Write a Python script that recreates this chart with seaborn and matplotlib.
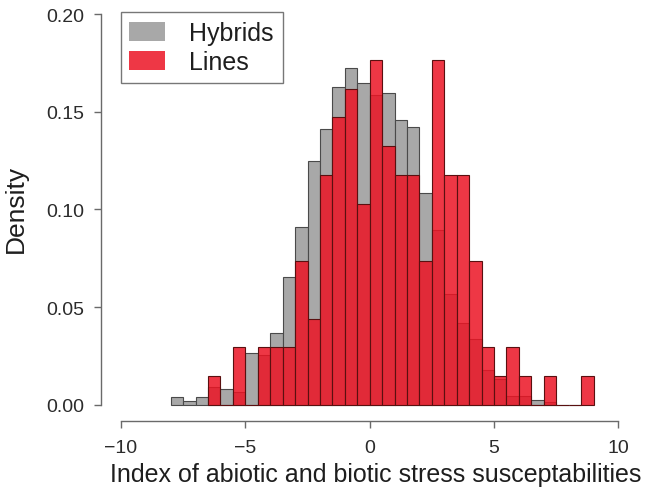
import numpy as np
import pandas as pd
import matplotlib
matplotlib.use("Agg")
import matplotlib.pyplot as plt
from matplotlib.patches import Patch
import seaborn as sns

# ---- data ----
bin_width = 0.5
# Hybrids: densities per 0.5-wide bin, bins from -8 to 8.5
hybrid_start = -8.0
hybrid_density = [0.004, 0.002, 0.004, 0.009, 0.008, 0.0065, 0.0265, 0.0253,
                  0.0368, 0.0656, 0.0908, 0.1247, 0.1410, 0.1624, 0.1723, 0.1648,
                  0.1584, 0.1598, 0.1460, 0.1422, 0.1084, 0.0896, 0.0567, 0.0420,
                  0.0339, 0.0180, 0.0134, 0.0043, 0.0043, 0.0026, 0.0014, 0.0, 0.0]
# Lines: counts per 0.5-wide bin, bins from -6.5 to 9
lines_start = -6.5
lines_count = [1, 0, 2, 0, 2, 2, 2, 5, 3, 8, 10, 11, 7, 12, 9, 8, 8, 5, 12, 8,
               8, 5, 2, 1, 2, 1, 0, 1, 0, 0, 1]

x_ticks = [-10, -5, 0, 5, 10]
y_ticks = [0.00, 0.05, 0.10, 0.15, 0.20]
x_label = "Index of abiotic and biotic stress susceptabilities"
y_label = "Density"
legend_labels = ["Hybrids", "Lines"]

# ---- build bins ----
h_edges = [hybrid_start + bin_width * i for i in range(len(hybrid_density) + 1)]
h_centers = [e + bin_width / 2 for e in h_edges[:-1]]
l_edges = [lines_start + bin_width * i for i in range(len(lines_count) + 1)]
l_centers = [e + bin_width / 2 for e in l_edges[:-1]]

df_h = pd.DataFrame({"x": h_centers, "w": hybrid_density})
df_l = pd.DataFrame({"x": l_centers, "w": lines_count})

sns.set_theme(style="white")
plt.rcParams["font.family"] = ["Liberation Sans", "DejaVu Sans"]
plt.rcParams["axes.unicode_minus"] = True

W, H = 647, 489
fig = plt.figure(figsize=(W / 100, H / 100), dpi=100)
ax_left, ax_right, ax_top, ax_bottom = 100.5, 630.0, 8.0, 421.7
ax = fig.add_axes([ax_left / W, 1 - ax_bottom / H,
                   (ax_right - ax_left) / W, (ax_bottom - ax_top) / H])

gray = "#a8a8a8"
red = (0.925, 0.08, 0.14)
red_alpha = 0.85

sns.histplot(data=df_h, x="x", weights="w", bins=h_edges, stat="count",
             color=gray, alpha=1.0, edgecolor="#4a4a4a", linewidth=0.8, ax=ax)
sns.histplot(data=df_l, x="x", weights="w", bins=l_edges, stat="density",
             color=red, alpha=red_alpha, edgecolor="#5a1010", linewidth=0.8, ax=ax)

ax.set_xlim(-10.824, 10.466)
ax.set_ylim(-0.00814, 0.2036)
ax.set_xticks(x_ticks)
ax.set_yticks(y_ticks)
ax.set_xticklabels([f"{t:d}".replace("-", "\u2212") for t in x_ticks])
ax.set_yticklabels([f"{t:.2f}" for t in y_ticks])

for s in ["top", "right"]:
    ax.spines[s].set_visible(False)
spine_col = "#6a6a6a"
ax.spines["left"].set_bounds(0, 0.20)
ax.spines["bottom"].set_bounds(-10, 10)
for s in ["left", "bottom"]:
    ax.spines[s].set_color(spine_col)
    ax.spines[s].set_linewidth(1.0)

ax.tick_params(axis="both", which="both", direction="out", length=5, width=1.0,
               color=spine_col, labelsize=14, labelcolor="#2b2b2b",
               left=True, bottom=True)
ax.tick_params(axis="y", pad=7)
ax.tick_params(axis="x", pad=8)

ax.set_xlabel(x_label, fontsize=18, color="#1e1e1e")
ax.set_ylabel(y_label, fontsize=19, color="#1e1e1e")
axw = ax_right - ax_left
axh = ax_bottom - ax_top
ax.xaxis.set_label_coords((376 - ax_left) / axw, (ax_bottom - 481.7) / axh)
ax.xaxis.label.set_verticalalignment("baseline")
ax.yaxis.set_label_coords((16 - ax_left) / axw, (ax_bottom - 209) / axh)
ax.yaxis.label.set_verticalalignment("center")

handles = [Patch(facecolor=gray, edgecolor="none"),
           Patch(facecolor=red, alpha=red_alpha, edgecolor="none")]
leg = ax.legend(handles, legend_labels, loc="upper left",
                bbox_to_anchor=(120.7 / W, 1 - 13.3 / H), bbox_transform=fig.transFigure,
                borderaxespad=0, fontsize=18, frameon=True, fancybox=False,
                handlelength=1.44, handleheight=0.76, handletextpad=0.96,
                labelspacing=0.2, borderpad=0.35)
leg.get_frame().set_edgecolor("#555555")
leg.get_frame().set_linewidth(1.0)
for t in leg.get_texts():
    t.set_color("#1e1e1e")

fig.savefig("out.png", dpi=100)
